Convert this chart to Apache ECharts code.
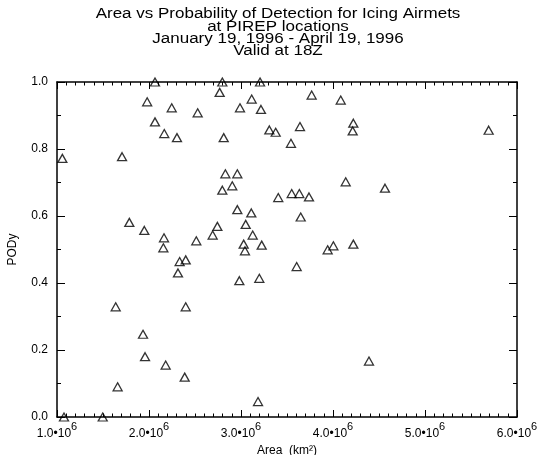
<!DOCTYPE html>
<html>
<head>
<meta charset="utf-8">
<script src="https://cdn.jsdelivr.net/npm/echarts@6/dist/echarts.min.js"></script>
<style>
  html, body { margin: 0; padding: 0; background: #fff; }
  #main { width: 542px; height: 455px; }
</style>
</head>
<body>
<div id="main"></div>
<script>
// area in units of 10^6 km^2
var areaValues = [
    2.065, 1.98, 2.247, 2.065, 2.166, 2.304, 1.058, 1.707,
    2.797, 3.207, 2.768, 3.116, 3.768, 2.529, 2.989, 3.217,
    3.308, 3.377, 3.641, 3.543, 2.812, 2.830, 2.96, 2.797,
    2.905, 3.405, 3.551, 3.634, 3.739,
    4.084, 4.221, 4.214, 5.692, 4.138, 4.565,
    1.786, 1.949, 2.163, 2.156, 2.333, 2.399, 2.315, 1.638, 2.399,
    2.96, 3.112, 3.649, 2.743, 2.692, 2.514, 3.051, 3.127,
    3.029, 3.043, 3.225, 3.942, 4.004, 3.605, 2.982, 3.199,
    4.221,
    1.935, 1.957, 2.181, 2.388, 1.659, 3.185, 4.391, 1.076, 1.497
];
var podValues = [
    1.0, 0.941, 0.923, 0.881, 0.846, 0.834, 0.772, 0.777,
    1.0, 1.0, 0.969, 0.949, 0.961, 0.908, 0.923, 0.918,
    0.857, 0.850, 0.867, 0.817, 0.834, 0.726, 0.726, 0.677,
    0.690, 0.655, 0.667, 0.667, 0.657,
    0.946, 0.877, 0.854, 0.856, 0.702, 0.683,
    0.581, 0.557, 0.535, 0.505, 0.464, 0.469, 0.430, 0.329, 0.329,
    0.619, 0.609, 0.597, 0.569, 0.543, 0.526, 0.575, 0.543,
    0.516, 0.496, 0.513, 0.499, 0.511, 0.449, 0.407, 0.414,
    0.516,
    0.247, 0.180, 0.155, 0.119, 0.090, 0.046, 0.167, 0.0, 0.0
];

var titleLines = [
    'Area vs Probability of Detection for Icing Airmets',
    'at PIREP locations',
    'January 19, 1996 - April 19, 1996',
    'Valid at 18Z'
];

var FONT = 'Liberation Sans';

var points = areaValues.map(function(a, i) { return [a, podValues[i]]; });

var chart = echarts.init(document.getElementById('main'));

function xAxisBase(pos, showLabel) {
    return {
        type: 'value',
        position: pos,
        min: 1,
        max: 6,
        interval: 1,
        axisLine: { show: true, onZero: false, lineStyle: { color: '#000', width: 1.5 } },
        axisTick: { show: true, inside: true, length: 7, lineStyle: { color: '#000', width: 1 } },
        minorTick: { show: true, splitNumber: 10, length: 3.5, lineStyle: { color: '#000', width: 1 } },
        splitLine: { show: false },
        axisLabel: {
            show: showLabel,
            margin: 4,
            formatter: function(v) { return '{a|' + v.toFixed(1) + '\u202210}{s|6}'; },
            rich: {
                a: { fontFamily: FONT, fontSize: 12, color: '#000', lineHeight: 19, verticalAlign: 'bottom' },
                s: { fontFamily: FONT, fontSize: 11, color: '#000', lineHeight: 11, verticalAlign: 'top' }
            }
        }
    };
}

function yAxisBase(pos, showLabel) {
    return {
        type: 'value',
        position: pos,
        min: 0,
        max: 1,
        interval: 0.2,
        axisLine: { show: true, onZero: false, lineStyle: { color: '#000', width: 1.5 } },
        axisTick: { show: true, inside: true, length: 8, lineStyle: { color: '#000', width: 1 } },
        minorTick: { show: true, splitNumber: 2, length: 4, lineStyle: { color: '#000', width: 1 } },
        splitLine: { show: false },
        axisLabel: {
            show: showLabel,
            margin: 9,
            fontFamily: FONT,
            fontSize: 12,
            color: '#000',
            formatter: function(v) { return v.toFixed(1); }
        }
    };
}

var xBottom = xAxisBase('bottom', true);
xBottom.name = 'Area  (km\u00B2)';
xBottom.nameLocation = 'middle';
xBottom.nameGap = 22;
xBottom.nameTextStyle = { fontFamily: FONT, fontSize: 12, color: '#000' };

var yLeft = yAxisBase('left', true);
yLeft.name = 'PODy';
yLeft.nameLocation = 'middle';
yLeft.nameGap = 38;
yLeft.nameTextStyle = { fontFamily: FONT, fontSize: 12, color: '#000' };

var option = {
    backgroundColor: '#fff',
    animation: false,
    // title drawn as graphic text so it can be squashed a bit vertically like the original
    graphic: [{
        type: 'text',
        x: 278,
        y: 8,
        scaleY: 0.85,
        style: {
            text: titleLines.join('\n'),
            fontFamily: FONT,
            fontSize: 17,
            lineHeight: 14.6,
            fill: '#000',
            align: 'center',
            verticalAlign: 'top'
        }
    }],
    grid: { left: 57, top: 82, right: 25, bottom: 38, containLabel: false, outerBoundsMode: 'none' },
    xAxis: [xBottom, xAxisBase('top', false)],
    yAxis: [yLeft, yAxisBase('right', false)],
    series: [{
        type: 'scatter',
        data: points,
        symbol: 'triangle',
        symbolSize: [9, 8],
        clip: false,
        itemStyle: { color: 'rgba(0,0,0,0)', borderColor: '#000', borderWidth: 1.3 }
    }]
};

chart.setOption(option);
</script>
</body>
</html>
